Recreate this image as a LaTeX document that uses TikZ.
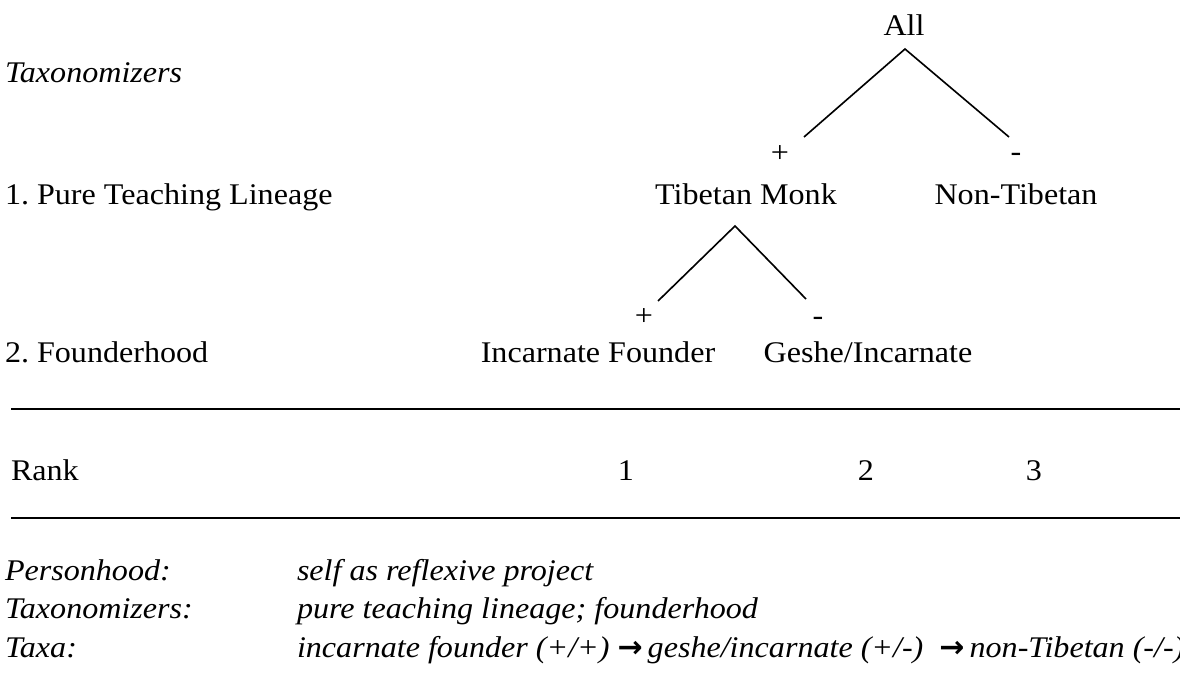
\documentclass[tikz,border=0pt]{standalone}
\usepackage{fontspec}
\setmainfont{Liberation Serif}[FakeStretch=1.07]
\newfontfamily\arrowfont{DejaVu Sans}
\frenchspacing
\begin{document}
\begin{tikzpicture}[x=0.4pt,y=-0.4pt,
  every node/.style={inner sep=0pt,outer sep=0pt,font=\fontsize{12}{14}\selectfont},
  lbl/.style={anchor=base west},
  ctr/.style={anchor=base},
  branch/.style={line width=0.65pt},
  rule/.style={line width=0.8pt}]
\useasboundingbox (0,0) rectangle (1180,679);

% row labels on the left
\node[lbl,font=\fontsize{12}{14}\selectfont\itshape] (taxhead) at (5,83) {Taxonomizers};
\node[lbl] (row1) at (5,205) {1. Pure Teaching Lineage};
\node[lbl] (row2) at (5,362) {2. Founderhood};
\node[lbl] (rank) at (11,480) {Rank};

% tree: first split
\node[ctr] (all) at (904,36) {All};
\coordinate (apexA) at (905,49);
\coordinate (endAl) at (804,137);
\coordinate (endAr) at (1009,137);
\draw[branch] (endAl) -- (apexA) -- (endAr);
\node[ctr] (plusA) at (780,163) {+};
\node[ctr] (minusA) at (1016,162) {-};
\node[ctr] (monk) at (746,205) {Tibetan Monk};
\node[ctr] (nontib) at (1016,205) {Non-Tibetan};

% tree: second split
\coordinate (apexB) at (735,226);
\coordinate (endBl) at (658,301);
\coordinate (endBr) at (806,299);
\draw[branch] (endBl) -- (apexB) -- (endBr);
\node[ctr] (plusB) at (644,326) {+};
\node[ctr] (minusB) at (818,325) {-};
\node[ctr] (founder) at (598,362) {Incarnate Founder};
\node[ctr] (geshe) at (868,362) {Geshe/Incarnate};

% separating rules
\coordinate (ruleAl) at (11,409);
\coordinate (ruleAr) at (1180,409);
\coordinate (ruleBl) at (11,518);
\coordinate (ruleBr) at (1180,518);
\draw[rule] (ruleAl) -- (ruleAr);
\draw[rule] (ruleBl) -- (ruleBr);

% ranks
\node[ctr] (r1) at (626,480) {1};
\node[ctr] (r2) at (866,480) {2};
\node[ctr] (r3) at (1034,480) {3};

% summary
\begin{scope}[every node/.append style={font=\fontsize{12}{14}\selectfont\itshape}]
\node[lbl] (pk) at (5,580) {Personhood:};
\node[lbl] (pv) at (297,580) {self as reflexive project};
\node[lbl] (tk) at (5,618) {Taxonomizers:};
\node[lbl] (tv) at (297,618) {pure teaching lineage; founderhood};
\node[lbl] (xk) at (5,657) {Taxa:};
\node[lbl] (xv) at (297,657) {incarnate founder (+/+) {\arrowfont\bfseries\upshape →}\,geshe/incarnate (+/-) \ {\arrowfont\bfseries\upshape →}\,non-Tibetan (-/-)};
\end{scope}
\end{tikzpicture}
\end{document}
